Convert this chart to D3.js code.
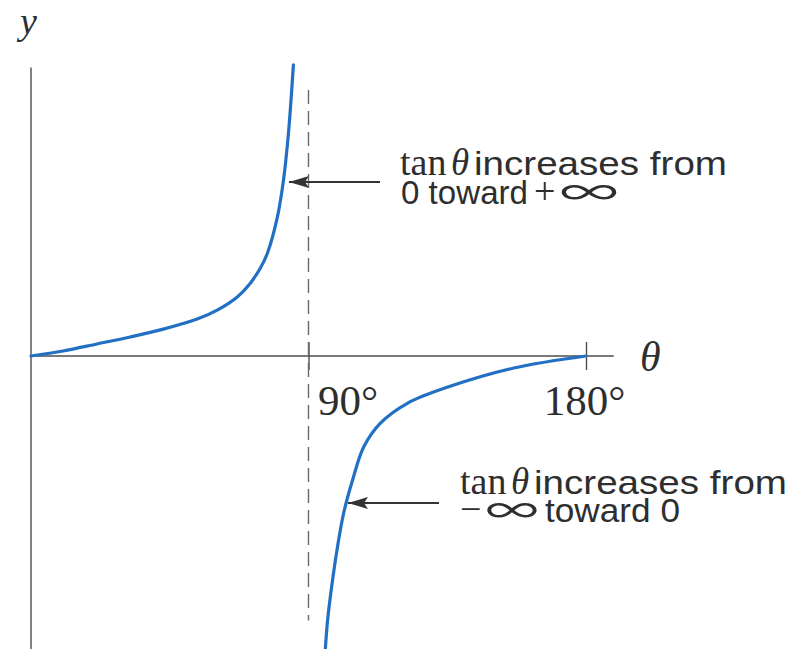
<!DOCTYPE html>
<html>
<head>
<meta charset="utf-8">
<script src="https://cdn.jsdelivr.net/npm/d3@7"></script>
<style>
  html, body { margin: 0; padding: 0; background: #fff; }
  svg { display: block; }
</style>
</head>
<body>
<div id="chart"></div>
<script>
// Branch of y = tan θ below the asymptote (0° → 90°), read as [θ in degrees, y]
const upperTheta = [0, 10.4, 21.4, 32.2, 42.9, 53.9, 60.4, 66.9, 71.2, 74.4, 76.7, 79.9, 81.9, 83.5, 85.1];
const upperY     = [0, 0.18, 0.43, 0.68, 0.96, 1.32, 1.64, 2.11, 2.61, 3.14, 3.68, 4.96, 6.29, 7.96, 10.4];

// Branch above the asymptote (90° → 180°)
const lowerTheta = [95.2, 96.2, 97.8, 99.4, 101.4, 104.3, 107.9, 113.4, 122.2, 135.2, 156.6, 180];
const lowerY     = [-10.9, -9.43, -8.0, -6.82, -5.61, -4.43, -3.25, -2.39, -1.68, -1.11, -0.43, 0];

// Axis ticks and their labels
const tickValues = [90, 180];
const tickLabels = ["90°", "180°"];

// Vertical asymptote at θ = 90°, drawn between these y values
const asymptoteTheta = 90;
const asymptoteSpan = [9.5, -9.45];

const W = 799, H = 649;
const svg = d3.select("#chart").append("svg")
  .attr("width", W).attr("height", H)
  .attr("viewBox", `0 0 ${W} ${H}`);

const x = d3.scaleLinear().domain([0, 180]).range([31, 586]);
const y = d3.scaleLinear().domain([-11, 11]).range([664, 48]);

const axisColor = "#4d4d4d";
const curveColor = "#2170c4";
const ink = "#2e2e2e";
const serif = "'Liberation Serif', 'DejaVu Serif', serif";
const sans = "'Liberation Sans', Arial, sans-serif";
const light = "Inter, 'DejaVu Sans', sans-serif";

// Axes lines
svg.append("line")
  .attr("x1", x(0)).attr("x2", x(0))
  .attr("y1", y(10.3)).attr("y2", H)
  .attr("stroke", axisColor).attr("stroke-width", 1.4);
svg.append("line")
  .attr("x1", x(0)).attr("x2", x(189))
  .attr("y1", y(0)).attr("y2", y(0))
  .attr("stroke", axisColor).attr("stroke-width", 1.4);

// Ticks crossing the θ axis
const xAxis = d3.axisBottom(x).tickValues(tickValues).tickSize(14).tickFormat((d, i) => tickLabels[i]);
const gx = svg.append("g").attr("transform", `translate(0,${y(0)})`).call(xAxis);
gx.select(".domain").remove();
gx.selectAll(".tick line")
  .attr("y1", -14).attr("y2", 14)
  .attr("stroke", axisColor).attr("stroke-width", 1.4);
gx.selectAll(".tick text")
  .attr("font-family", serif).attr("font-size", 43).attr("fill", ink)
  .attr("y", 59).attr("dy", 0)
  .attr("text-anchor", (d) => d === 90 ? "start" : "middle")
  .attr("dx", (d) => d === 90 ? 9 : -2);

// Asymptote
svg.append("line")
  .attr("x1", x(asymptoteTheta)).attr("x2", x(asymptoteTheta))
  .attr("y1", y(asymptoteSpan[0])).attr("y2", y(asymptoteSpan[1]))
  .attr("stroke", "#6a6a6a").attr("stroke-width", 1.4)
  .attr("stroke-dasharray", "14,7");

// Curves
const line = d3.line().x(d => x(d[0])).y(d => y(d[1])).curve(d3.curveCatmullRom.alpha(0.5));
const upper = upperTheta.map((t, i) => [t, upperY[i]]);
const lower = lowerTheta.map((t, i) => [t, lowerY[i]]);
[upper, lower].forEach(pts => {
  svg.append("path").datum(pts)
    .attr("d", line)
    .attr("fill", "none")
    .attr("stroke", curveColor)
    .attr("stroke-width", 3.2)
    .attr("stroke-linecap", "round");
});

// Axis names
svg.append("text").text("y")
  .attr("x", 20).attr("y", 34)
  .attr("font-family", serif).attr("font-style", "italic").attr("font-size", 38).attr("fill", ink);
svg.append("text").text("θ")
  .attr("x", 640).attr("y", 371)
  .attr("font-family", serif).attr("font-style", "italic").attr("font-size", 42).attr("fill", ink);

// Annotation arrows
const defs = svg.append("defs");
defs.append("marker")
  .attr("id", "head").attr("viewBox", "0 0 20 12")
  .attr("refX", 20).attr("refY", 6)
  .attr("markerWidth", 20).attr("markerHeight", 12)
  .attr("markerUnits", "userSpaceOnUse")
  .attr("orient", "auto")
  .append("path").attr("d", "M0,0 L20,6 L0,12 L4,6 Z").attr("fill", "#333");

function arrow(fromX, toX, atY) {
  svg.append("line")
    .attr("x1", fromX).attr("x2", toX)
    .attr("y1", atY).attr("y2", atY)
    .attr("stroke", "#333").attr("stroke-width", 2)
    .attr("marker-end", "url(#head)");
}
arrow(380, 289, 182);
arrow(439, 348, 503);

// One annotation line: a single text element made of font runs
function textLine(px, py, runs) {
  const t = svg.append("text").attr("x", px).attr("y", py).attr("fill", ink);
  runs.forEach(r => {
    const s = t.append("tspan").text(r.s)
      .attr("x", r.x)
      .attr("font-family", r.f)
      .attr("font-size", r.size || 33);
    if (r.italic) s.attr("font-style", "italic");
    if (r.weight) s.attr("font-weight", r.weight);
    if (r.len) s.attr("textLength", r.len).attr("lengthAdjust", "spacingAndGlyphs");
  });
  return t;
}

// "tan θ increases from / 0 toward +∞"
textLine(401, 175, [
  { s: "tan", x: 400, f: serif, size: 38 },
  { s: "θ", x: 451, f: serif, size: 37, italic: true },
  { s: "increases from", x: 474, f: sans, len: 253 }
]);
textLine(401, 204, [
  { s: "0 toward", x: 401, f: sans, len: 127 },
  { s: "+", x: 534, f: serif, size: 38 },
  { s: "∞", x: 558, f: light, size: 38, weight: 300, len: 62 }
]);

// "tan θ increases from / −∞ toward 0"
textLine(461, 494, [
  { s: "tan", x: 460, f: serif, size: 38 },
  { s: "θ", x: 511, f: serif, size: 37, italic: true },
  { s: "increases from", x: 534, f: sans, len: 253 }
]);
textLine(461, 522, [
  { s: "−", x: 460, f: serif, size: 38 },
  { s: "∞", x: 484, f: light, size: 38, weight: 300, len: 56 },
  { s: "toward 0", x: 545, f: sans, len: 135 }
]);
</script>
</body>
</html>
